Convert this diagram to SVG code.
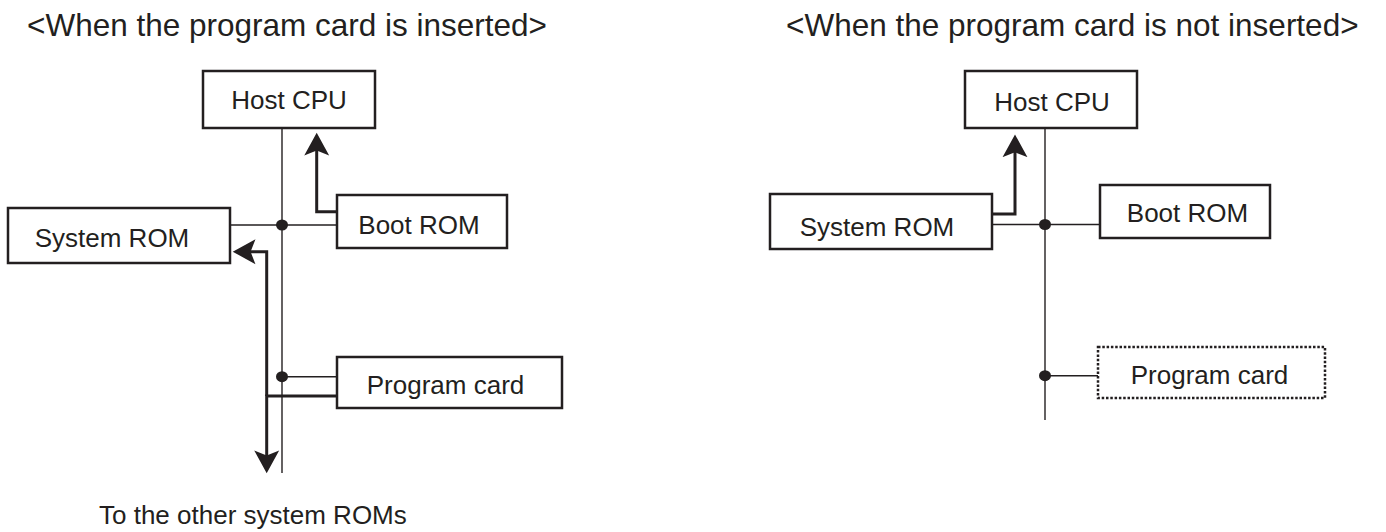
<svg xmlns="http://www.w3.org/2000/svg" width="1386" height="532" viewBox="0 0 1386 532">
<style>
text{font-family:"Liberation Sans",Arial,sans-serif;fill:#231f20}
.t{font-size:26px;text-anchor:middle}
.title{font-size:31.5px}
.box{fill:#fff;stroke:#231f20;stroke-width:2.5}
.dash{fill:#fff;stroke:#231f20;stroke-width:2.5;stroke-dasharray:2.5 1.8}
.bus{fill:none;stroke:#231f20;stroke-width:1.4}
.thick{fill:none;stroke:#231f20;stroke-width:3;stroke-linejoin:miter}
.dot{fill:#231f20}
</style>
<defs>
<marker id="ah" markerUnits="userSpaceOnUse" markerWidth="24" markerHeight="26" viewBox="0 -12 22 24" refX="14" refY="0" orient="auto">
<path d="M0,-11.5 L21,0 L0,11.5 L4.5,0 Z" fill="#231f20"/>
</marker>
</defs>
<rect width="1386" height="532" fill="#fff"/>
<text class="title" x="27" y="35.5">&lt;When the program card is inserted&gt;</text>
<text class="title" x="786" y="35.5">&lt;When the program card is not inserted&gt;</text>
<g id="connectors">
<path class="bus" d="M282,128 V473"/>
<path class="bus" d="M230,225 H337"/>
<path class="bus" d="M282,376.7 H337"/>
<ellipse class="dot" cx="282" cy="225" rx="6" ry="5.5"/>
<ellipse class="dot" cx="282" cy="376.7" rx="6" ry="5.5"/>
<path class="thick" d="M337,211.7 H316.7 V140.3" marker-end="url(#ah)"/>
<path class="thick" d="M337,396 H266.7 V465.7" marker-end="url(#ah)"/>
<path class="thick" d="M266.7,396 V251.7 H240.3" marker-end="url(#ah)"/>
<path class="bus" d="M1045,127 V420"/>
<path class="bus" d="M992,224.5 H1100"/>
<path class="bus" d="M1045,375.7 H1098"/>
<ellipse class="dot" cx="1045" cy="224.5" rx="6" ry="5.5"/>
<ellipse class="dot" cx="1045" cy="375.7" rx="6" ry="5.5"/>
<path class="thick" d="M992,214 H1015 V142" marker-end="url(#ah)"/>
</g>
<g id="host-cpu-left"><rect class="box" x="203" y="71" width="172" height="57"/><text class="t" x="289" y="108.5">Host CPU</text></g>
<g id="system-rom-left"><rect class="box" x="8" y="208" width="222" height="55"/><text class="t" x="112" y="246.5">System ROM</text></g>
<g id="boot-rom-left"><rect class="box" x="337" y="195" width="170" height="53"/><text class="t" x="419" y="234">Boot ROM</text></g>
<g id="program-card-left"><rect class="box" x="337" y="357" width="225" height="51"/><text class="t" x="445.5" y="394">Program card</text></g>
<g id="other-roms-label"><text x="99" y="524" style="font-size:26px">To the other system ROMs</text></g>
<g id="host-cpu-right"><rect class="box" x="965" y="71" width="172" height="57"/><text class="t" x="1052" y="110.5">Host CPU</text></g>
<g id="system-rom-right"><rect class="box" x="770" y="194" width="222" height="55"/><text class="t" x="877" y="236">System ROM</text></g>
<g id="boot-rom-right"><rect class="box" x="1100" y="185" width="170" height="53"/><text class="t" x="1187.5" y="222">Boot ROM</text></g>
<g id="program-card-right"><rect class="dash" x="1098" y="347" width="227" height="51"/><text class="t" x="1209.5" y="383.5">Program card</text></g>
</svg>
